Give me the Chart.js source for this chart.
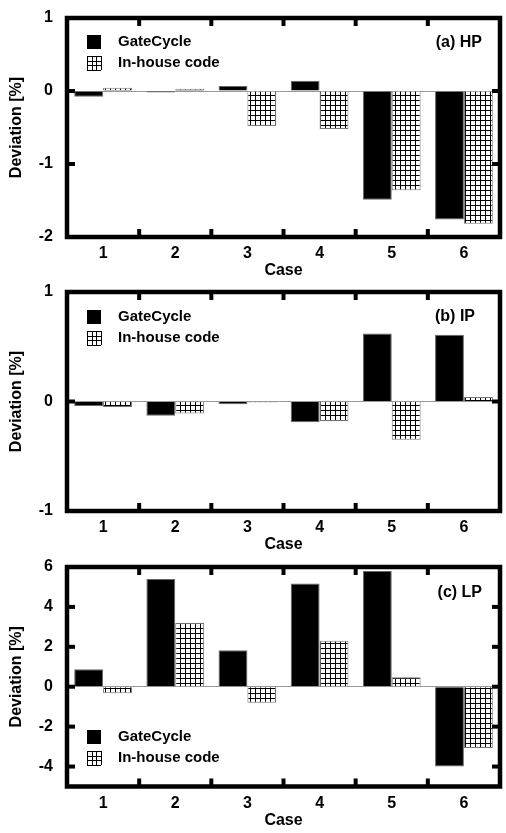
<!DOCTYPE html>
<html>
<head>
<meta charset="utf-8">
<script src="https://cdn.jsdelivr.net/npm/chart.js@4.4.1/dist/chart.umd.min.js"></script>
<style>
  html, body { margin: 0; padding: 0; background: #fff; }
  #wrap { position: relative; width: 506px; height: 833px; }
  .panel { position: absolute; left: 0; width: 506px; }
</style>
</head>
<body>
<div id="wrap">
  <div class="panel" style="top:0px;height:280px"><canvas id="hpChart"></canvas></div>
  <div class="panel" style="top:280px;height:278px"><canvas id="ipChart"></canvas></div>
  <div class="panel" style="top:558px;height:275px"><canvas id="lpChart"></canvas></div>
</div>
<script>
// datos
const cases = ['1', '2', '3', '4', '5', '6'];
const seriesNames = ['GateCycle', 'In-house code'];

const hpGateCycle = [-0.08, -0.02, 0.07, 0.14, -1.49, -1.76];
const hpInHouse = [0.045, 0.03, -0.48, -0.52, -1.36, -1.82];
const hpTicks = [-2, -1, 0, 1];

const ipGateCycle = [-0.04, -0.13, -0.025, -0.19, 0.62, 0.61];
const ipInHouse = [-0.05, -0.11, -0.01, -0.18, -0.35, 0.04];
const ipTicks = [-1, 0, 1];

const lpGateCycle = [0.88, 5.4, 1.83, 5.17, 5.8, -4.0];
const lpInHouse = [-0.33, 3.2, -0.8, 2.3, 0.47, -3.07];
const lpTicks = [-4, -2, 0, 2, 4, 6];

const FONT = 'Arial, "Liberation Sans", sans-serif';

// patron de cuadricula para la serie In-house code
function gridPattern() {
    const c = document.createElement('canvas');
    c.width = 5; c.height = 5;
    const g = c.getContext('2d');
    g.fillStyle = '#fff';
    g.fillRect(0, 0, 5, 5);
    g.fillStyle = '#000';
    g.fillRect(0, 0, 5, 1);
    g.fillRect(0, 0, 1, 5);
    return g.createPattern(c, 'repeat');
}

function drawGridIcon(ctx, x, y, size) {
    ctx.save();
    ctx.strokeStyle = '#000';
    ctx.lineWidth = 1;
    ctx.beginPath();
    for (let i = 0; i <= 3; i++) {
        const p = Math.round(i * size / 3) + 0.5;
        ctx.moveTo(x + p, y); ctx.lineTo(x + p, y + size);
        ctx.moveTo(x, y + p); ctx.lineTo(x + size, y + p);
    }
    ctx.stroke();
    ctx.restore();
}

// marco grueso, marcas hacia adentro, leyenda y etiqueta del panel
const framePlugin = {
    id: 'frame',
    afterDraw(chart, args, opts) {
        const ctx = chart.ctx;
        const { left, right, top, bottom } = chart.chartArea;
        const yScale = chart.scales.y;
        const xScale = chart.scales.x;
        ctx.save();
        ctx.fillStyle = '#000';
        ctx.strokeStyle = '#000';
        ctx.lineWidth = 4.5;
        ctx.strokeRect(left, top, right - left, bottom - top);

        opts.ticks.forEach(v => {
            const y = yScale.getPixelForValue(v);
            ctx.fillRect(left, y - 2, 8, 4);
            ctx.fillRect(right - 8, y - 2, 8, 4);
        });
        for (let i = 0; i < cases.length - 1; i++) {
            const x = (xScale.getPixelForValue(i) + xScale.getPixelForValue(i + 1)) / 2;
            ctx.fillRect(x - 2, top, 4, 8);
            ctx.fillRect(x - 2, bottom - 8, 4, 8);
        }

        // leyenda
        ctx.font = 'bold 15px ' + FONT;
        ctx.textBaseline = 'middle';
        ctx.textAlign = 'left';
        const ly = opts.legendY;
        ctx.fillRect(87, ly - 7, 14, 14);
        ctx.fillText(seriesNames[0], 118, ly);
        drawGridIcon(ctx, 87, ly + 21 - 7, 14);
        ctx.fillStyle = '#000';
        ctx.fillText(seriesNames[1], 118, ly + 21);

        // etiqueta del panel
        ctx.font = 'bold 16px ' + FONT;
        ctx.textAlign = 'right';
        ctx.fillText(opts.label, opts.labelX, opts.labelY);
        ctx.restore();
    }
};

function makePanel(id, gate, inhouse, ticks, cfg) {
    const ctx = document.getElementById(id).getContext('2d');
    const pattern = gridPattern();
    return new Chart(ctx, {
        type: 'bar',
        data: {
            labels: cases,
            datasets: [{
                label: seriesNames[0],
                data: gate,
                backgroundColor: '#000',
                borderColor: '#666',
                borderWidth: 1,
                categoryPercentage: 0.8,
                barPercentage: 1.0
            }, {
                label: seriesNames[1],
                data: inhouse,
                backgroundColor: pattern,
                borderColor: '#777',
                borderWidth: 1,
                categoryPercentage: 0.8,
                barPercentage: 1.0
            }]
        },
        options: {
            responsive: true,
            maintainAspectRatio: false,
            animation: false,
            layout: { padding: { top: cfg.top, right: 6, left: 0, bottom: 0 } },
            plugins: {
                legend: { display: false },
                tooltip: { enabled: false },
                frame: {
                    ticks: ticks,
                    legendY: cfg.legendY,
                    label: cfg.label,
                    labelX: cfg.labelX,
                    labelY: cfg.labelY
                }
            },
            scales: {
                x: {
                    grid: { display: false },
                    border: { display: false },
                    ticks: { color: '#000', font: { family: FONT, size: 16, weight: 'bold' }, padding: -1 },
                    title: {
                        display: true,
                        text: 'Case',
                        color: '#000',
                        font: { family: FONT, size: 16, weight: 'bold' },
                        padding: { top: 0, bottom: cfg.titlePad }
                    },
                    afterFit(scale) { scale.height = cfg.xHeight; }
                },
                y: {
                    min: cfg.min,
                    max: cfg.max,
                    border: { display: false },
                    grid: {
                        drawTicks: false,
                        color: c => (c.tick && c.tick.value === 0) ? '#999' : 'rgba(0,0,0,0)',
                        lineWidth: 1
                    },
                    ticks: { color: '#000', font: { family: FONT, size: 16, weight: 'bold' }, padding: 14 },
                    afterBuildTicks(scale) { scale.ticks = ticks.map(v => ({ value: v })); },
                    title: {
                        display: true,
                        text: 'Deviation [%]',
                        color: '#000',
                        font: { family: FONT, size: 16, weight: 'bold' },
                        padding: { top: 7, bottom: 0 }
                    },
                    afterFit(scale) {
                        scale.width = 67;
                        scale.paddingTop = 0;
                        scale.paddingBottom = 0;
                    }
                }
            }
        },
        plugins: [framePlugin]
    });
}

makePanel('hpChart', hpGateCycle, hpInHouse, hpTicks, {
    top: 18, xHeight: 280 - 237, titlePad: -0.6, min: -2, max: 1,
    legendY: 42, label: '(a) HP', labelX: 482, labelY: 43
});
makePanel('ipChart', ipGateCycle, ipInHouse, ipTicks, {
    top: 12, xHeight: 278 - 231, titlePad: 3.4, min: -1, max: 1,
    legendY: 37, label: '(b) IP', labelX: 475, labelY: 37
});
makePanel('lpChart', lpGateCycle, lpInHouse, lpTicks, {
    top: 9, xHeight: 275 - 228.5, titlePad: 2.9, min: -5, max: 6,
    legendY: 179, label: '(c) LP', labelX: 482, labelY: 35
});
</script>
</body>
</html>
